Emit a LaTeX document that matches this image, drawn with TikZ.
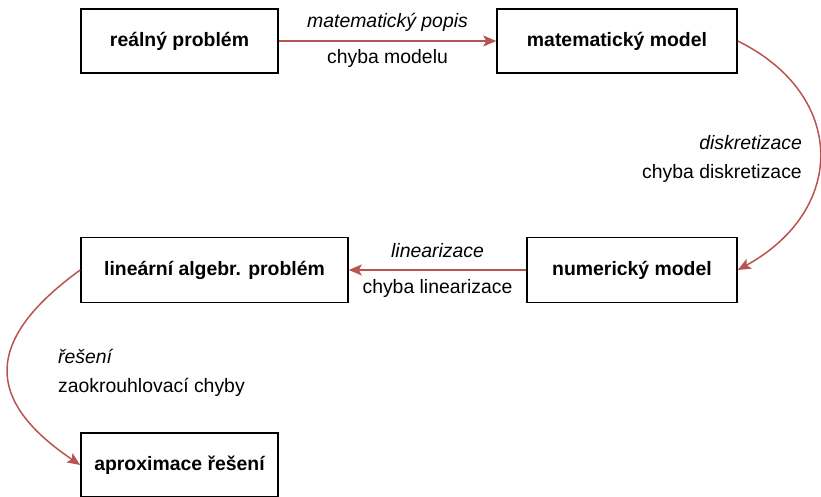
\documentclass[tikz,border=0pt]{standalone}
\usepackage{fontspec}
\setmainfont{Liberation Sans}
\usepackage{tikz}
\usetikzlibrary{arrows.meta}
\usetikzlibrary{positioning}
\usetikzlibrary{calc}

\definecolor{arrowred}{HTML}{B85450}

\begin{document}
\begin{tikzpicture}[x=1pt, y=1pt, font=\fontsize{19.4}{23}\selectfont,
    box/.style={draw, line width=1.6pt, inner sep=0pt, font=\fontsize{19.4}{23}\selectfont\bfseries},
    flow/.style={draw=arrowred, line width=1.5pt, -{Stealth[length=13pt, width=11pt, inset=3pt]}},
    tight/.style={inner sep=1pt}]
        % Fix the size of the picture
        \useasboundingbox (0,0) rectangle (821,497);

        % Draw the boxes
        \node[box, minimum width=197pt, minimum height=64pt] (real) at (179.5,456) {reálný problém};
        \node[box, minimum width=240pt, minimum height=64pt] (matmodel) at (617,456) {matematický model};
        \node[box, minimum width=210pt, minimum height=65pt] (nummodel) at (632,227) {numerický model};
        \node[box, minimum width=267pt, minimum height=65pt] (linalg) at (214.5,227) {lineární algebr. problém};
        \node[box, minimum width=197pt, minimum height=64pt] (aprox) at (179.5,32) {aproximace řešení};

        % Straight arrows with their labels
        \draw[flow] (real) -- (matmodel)
            node[tight, midway, yshift=19pt, font=\fontsize{19.4}{23}\selectfont\itshape] (popis) {matematický popis}
            node[tight, midway, yshift=-17pt] (chmodel) {chyba modelu};
        \draw[flow] (nummodel) -- (linalg)
            node[tight, midway, yshift=19pt, font=\fontsize{19.4}{23}\selectfont\itshape] (linear) {linearizace}
            node[tight, midway, yshift=-18pt] (chlinear) {chyba linearizace};

        % Curved arrows
        \draw[flow] (matmodel.east) .. controls (847,402) and (847,287) .. (nummodel.east);
        \draw[flow] (linalg.west) .. controls (-16,157) and (-16,97) .. (aprox.west);

        % Labels of the curved arrows
        \node[tight, anchor=east, font=\fontsize{19.4}{23}\selectfont\itshape] (diskr) at (803,354) {diskretizace};
        \node[tight, anchor=east] (chdiskr) at (803,324) {chyba diskretizace};
        \node[tight, anchor=west, font=\fontsize{19.4}{23}\selectfont\itshape] (reseni) at (57,141) {řešení};
        \node[tight, anchor=west] (zaokr) at (57,110) {zaokrouhlovací chyby};
      \end{tikzpicture}
\end{document}
